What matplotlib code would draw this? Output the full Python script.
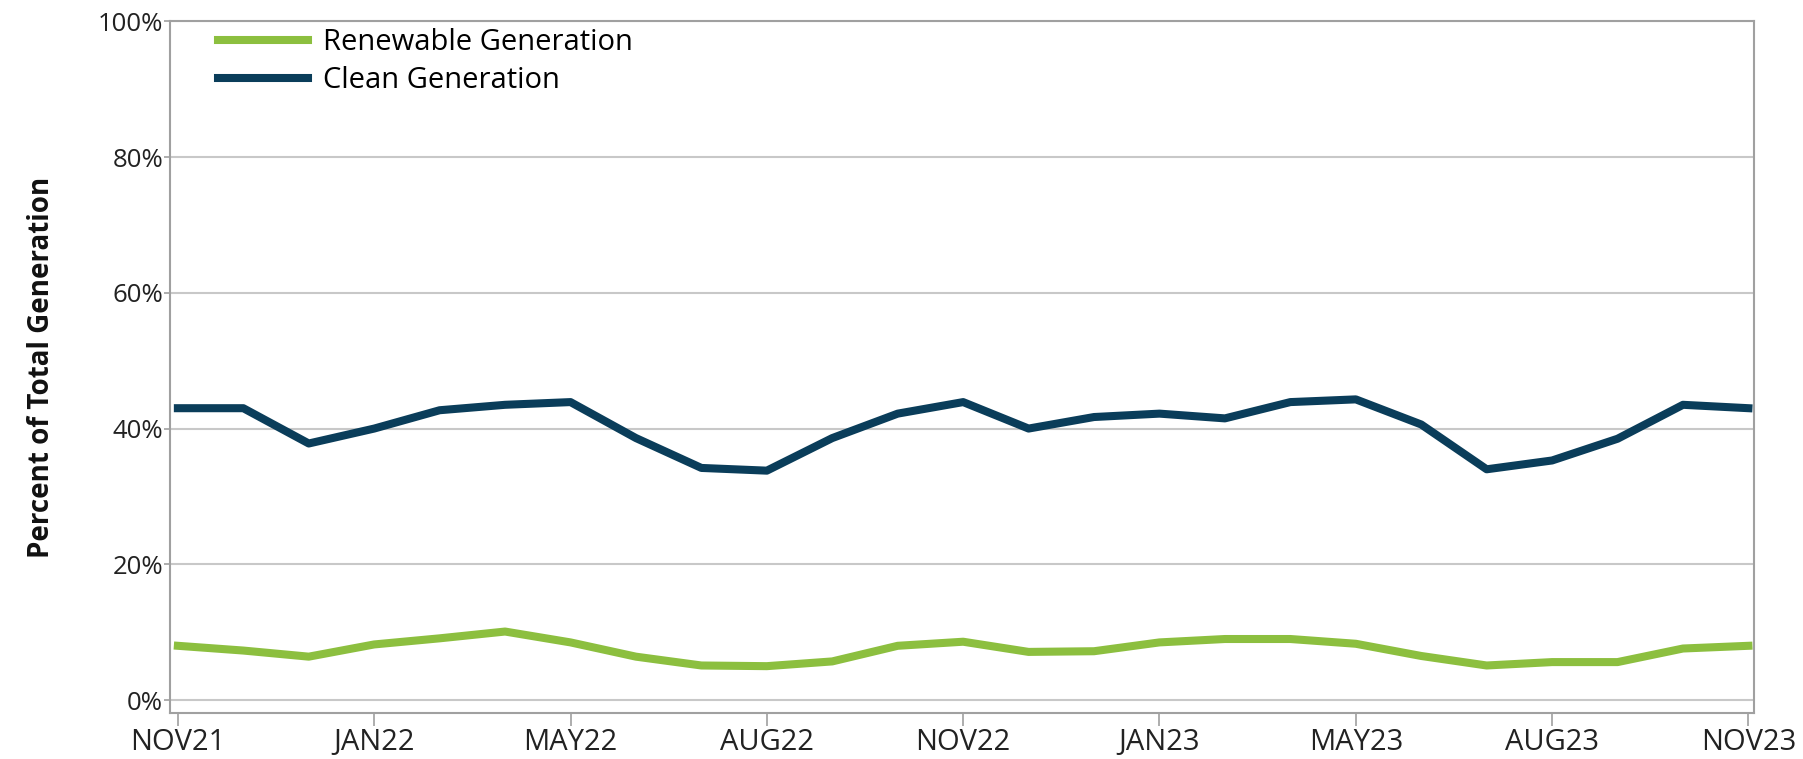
import matplotlib
matplotlib.use("Agg")
import matplotlib.pyplot as plt
import matplotlib.ticker as tkr
import numpy as np

# monthly data, NOV21 .. NOV23 (percent of total generation)
months = ["NOV21", "DEC21", "JAN22", "FEB22", "MAR22", "APR22", "MAY22", "JUN22",
          "JUL22", "AUG22", "SEP22", "OCT22", "NOV22", "DEC22", "JAN23", "FEB23",
          "MAR23", "APR23", "MAY23", "JUN23", "JUL23", "AUG23", "SEP23", "OCT23", "NOV23"]
renewable = [8.0, 7.3, 6.4, 8.2, 9.1, 10.1, 8.5, 6.4, 5.1, 5.0, 5.7, 8.0, 8.6,
             7.1, 7.2, 8.5, 9.0, 9.0, 8.3, 6.5, 5.1, 5.6, 5.6, 7.6, 8.0]
clean = [43.0, 43.0, 37.8, 40.0, 42.7, 43.5, 43.9, 38.6, 34.2, 33.8, 38.6, 42.2, 43.9,
         40.0, 41.7, 42.2, 41.5, 43.9, 44.3, 40.6, 34.0, 35.3, 38.5, 43.5, 43.0]

# tick labels as printed on the original chart
tick_pos = [0, 3, 6, 9, 12, 15, 18, 21, 24]
tick_lab = ["NOV21", "JAN22", "MAY22", "AUG22", "NOV22", "JAN23", "MAY23", "AUG23", "NOV23"]

green = "#8cbf3f"
navy = "#0a3d5a"

plt.rcParams["font.family"] = ["Open Sans", "DejaVu Sans"]

fig = plt.figure(figsize=(18.03, 7.59), dpi=100)
ax = fig.add_axes([0.0943, 0.0606, 0.8787, 0.9114])

x = np.arange(len(months))
ax.plot(x, renewable, color=green, lw=5.8, label="Renewable Generation",
        solid_joinstyle="round")
ax.plot(x, clean, color=navy, lw=5.8, label="Clean Generation",
        solid_joinstyle="round")

ax.set_xlim(-0.12, 24.09)
ax.set_ylim(-1.9, 100)

# grid and frame
ax.set_yticks(np.arange(0, 101, 20))
ax.yaxis.set_major_formatter(tkr.FuncFormatter(lambda v, p: f"{v:.0f}%"))
ax.grid(axis="y", color="#c8c8c8", lw=1.5)
ax.set_axisbelow(True)
for s in ax.spines.values():
    s.set_color("#a0a0a0")
    s.set_linewidth(1.5)

ax.set_xticks(tick_pos)
ax.set_xticklabels(tick_lab, fontsize=21)
ax.tick_params(axis="x", length=9, width=1.2, color="#a0a0a0", pad=2, labelcolor="#222222")
ax.tick_params(axis="y", length=4, width=1.2, color="#a0a0a0", pad=1,
               labelsize=18.5, labelcolor="#222222")

ax.set_ylabel("Percent of Total Generation", fontsize=20, fontweight="bold",
              color="#111111", labelpad=30)

ax.legend(loc="upper left", frameon=False, fontsize=21, handlelength=3.1,
          handletextpad=0.5, labelspacing=0.3, borderaxespad=0, borderpad=0,
          bbox_to_anchor=(0.030, 0.99))

fig.savefig("out.png", dpi=100)
